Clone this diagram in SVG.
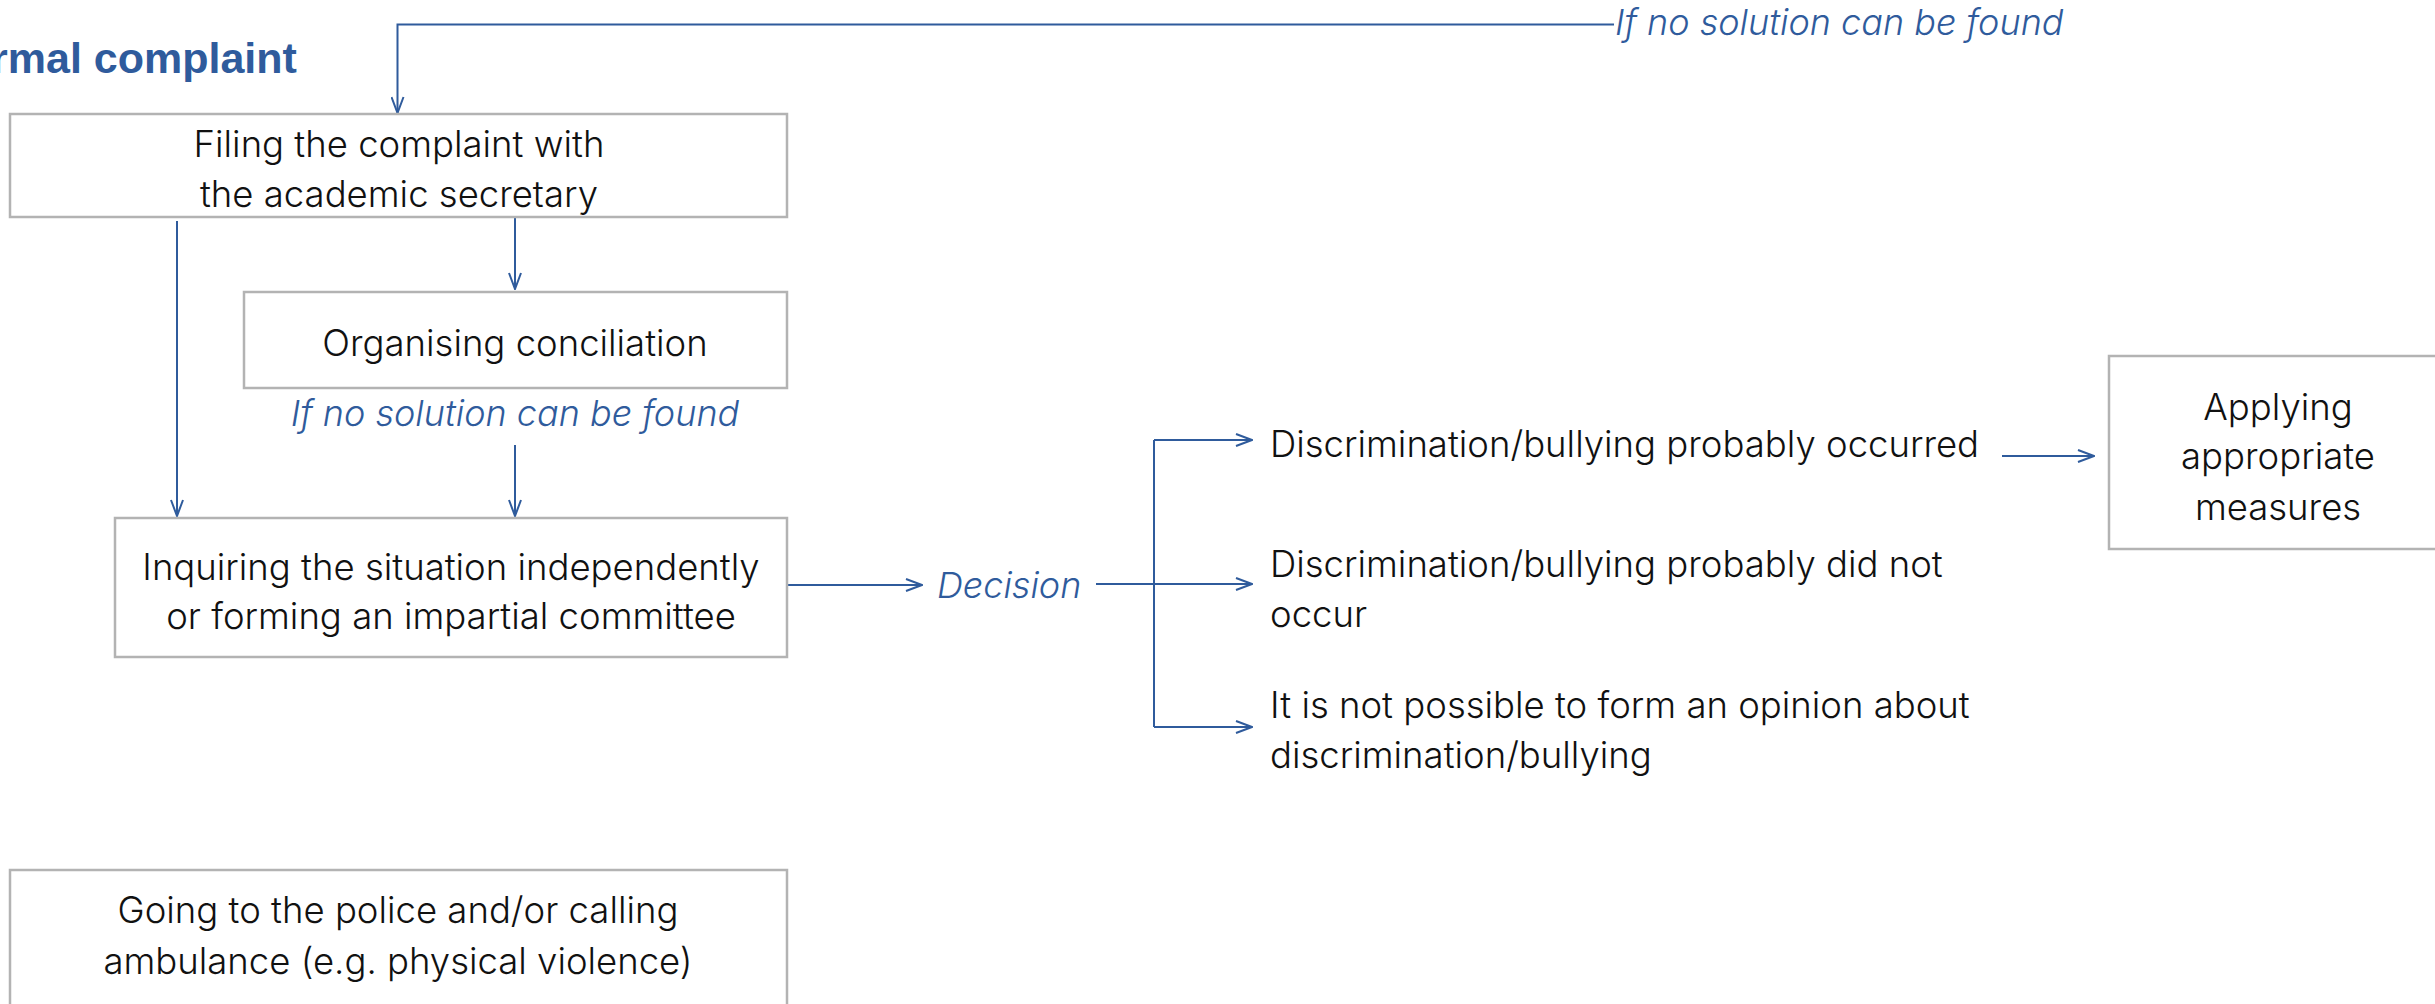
<svg xmlns="http://www.w3.org/2000/svg" width="2435" height="1004" viewBox="0 0 2435 1004">
<style>
.box{fill:#fff;stroke:#b3b3b3;stroke-width:2.5}
.t{font-family:Inter,"Liberation Sans",sans-serif;font-weight:300;font-size:36.5px;fill:#111}
.c{text-anchor:middle}
.lab{font-family:Inter,"Liberation Sans",sans-serif;font-weight:300;font-style:italic;font-size:36px;fill:#2f5b9c}
.title{font-family:"Liberation Sans",Arial,sans-serif;font-weight:bold;font-size:43px;fill:#2f5b9c}
.ln{fill:none;stroke:#2f5b9c;stroke-width:2}
.ar{marker-end:url(#arr)}
</style>
<defs>
<marker id="arr" viewBox="0 0 18 14" refX="17" refY="7" markerWidth="18" markerHeight="14" markerUnits="userSpaceOnUse" orient="auto">
<path d="M1,1 L17,7 L1,13" fill="none" stroke="#2f5b9c" stroke-width="2"/>
</marker>
</defs>
<rect width="2435" height="1004" fill="#fff"/>
<text class="title" x="-9" y="73">rmal complaint</text>
<g id="connectors">
<path class="ln ar" d="M1614,24.5 H397.5 V113"/>
<path class="ln ar" d="M177,221 V516"/>
<path class="ln ar" d="M515,217 V289"/>
<path class="ln ar" d="M515,445 V516"/>
<path class="ln ar" d="M787,585 H922"/>
<path class="ln ar" d="M1096,584 H1252"/>
<path class="ln" d="M1154,440 V727"/>
<path class="ln ar" d="M1154,440 H1252"/>
<path class="ln ar" d="M1154,727 H1252"/>
<path class="ln ar" d="M2002,456 H2094"/>
<text class="lab" x="1615" y="35">If no solution can be found</text>
<text class="lab c" x="515" y="426">If no solution can be found</text>
<text class="lab" x="937" y="598">Decision</text>
</g>
<g id="filing">
<rect class="box" x="10" y="114" width="777" height="103"/>
<text class="t c" x="399" y="157">Filing the complaint with</text>
<text class="t c" x="399" y="207">the academic secretary</text>
</g>
<g id="conciliation">
<rect class="box" x="244" y="292" width="543" height="96"/>
<text class="t c" x="515" y="356">Organising conciliation</text>
</g>
<g id="inquiring">
<rect class="box" x="115" y="518" width="672" height="139"/>
<text class="t c" x="451" y="580">Inquiring the situation independently</text>
<text class="t c" x="451" y="629">or forming an impartial committee</text>
</g>
<g id="occurred">
<text class="t" x="1270" y="457">Discrimination/bullying probably occurred</text>
</g>
<g id="notoccur">
<text class="t" x="1270" y="577">Discrimination/bullying probably did not</text>
<text class="t" x="1270" y="627">occur</text>
</g>
<g id="noopinion">
<text class="t" x="1270" y="718">It is not possible to form an opinion about</text>
<text class="t" x="1270" y="768">discrimination/bullying</text>
</g>
<g id="measures">
<rect class="box" x="2109" y="356" width="360" height="193"/>
<text class="t c" x="2278" y="420">Applying</text>
<text class="t c" x="2278" y="469">appropriate</text>
<text class="t c" x="2278" y="520">measures</text>
</g>
<g id="police">
<rect class="box" x="10" y="870" width="777" height="160"/>
<text class="t c" x="398" y="923">Going to the police and/or calling</text>
<text class="t c" x="398" y="974">ambulance (e.g. physical violence)</text>
</g>
</svg>
